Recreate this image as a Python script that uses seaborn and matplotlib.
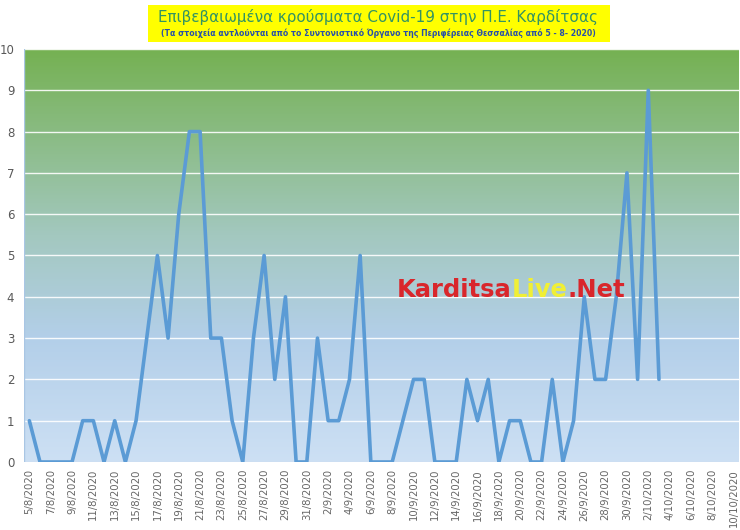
import numpy as np
import pandas as pd
import matplotlib
matplotlib.use("Agg")
import matplotlib.pyplot as plt
import seaborn as sns
from matplotlib.colors import LinearSegmentedColormap
from matplotlib.patches import Rectangle

# ---- data ----
dates = pd.date_range("2020-08-05", "2020-10-10", freq="D")
date_labels = [f"{d.day}/{d.month}/{d.year}" for d in dates]
cases = [1, 0, 0, 0, 0, 1, 1, 0, 1, 0,
         1, 3, 5, 3, 6, 8, 8, 3, 3, 1,
         0, 3, 5, 2, 4, 0, 0, 3, 1, 1,
         2, 5, 0, 0, 0, 1, 2, 2, 0, 0,
         0, 2, 1, 2, 0, 1, 1, 0, 0, 2,
         0, 1, 4, 2, 2, 4, 7, 2, 9, 2]
values = cases + [np.nan] * (len(dates) - len(cases))
yticks = list(range(0, 11))

title = "Επιβεβαιωμένα κρούσματα Covid-19 στην Π.Ε. Καρδίτσας"
subtitle = "(Τα στοιχεία αντλούνται από το Συντονιστικό Όργανο της Περιφέρειας Θεσσαλίας από 5 - 8- 2020)"

df = pd.DataFrame({"idx": np.arange(len(dates)), "cases": values})

sns.set_theme(style="white")
plt.rcParams['font.family'] = ['DejaVu Sans']

fig = plt.figure(figsize=(7.4, 5.3), dpi=100)
ax = fig.add_axes([24/740, 1-462/530, 715/740, (462-49)/530])

# gradient background
cmap = LinearSegmentedColormap.from_list(
    "bg", [(0.0, "#cde0f4"), (0.3, "#b3cfe9"), (0.55, "#a3c8bf"), (1.0, "#75b152")])
grad = np.linspace(0, 1, 256).reshape(-1, 1)
ax.imshow(grad, aspect="auto", cmap=cmap, origin="lower",
          extent=[-0.5, len(dates) - 0.5, 0, 10], zorder=0)

sns.lineplot(data=df, x="idx", y="cases", ax=ax, color="#5b9bd5", lw=2.6, zorder=3)

ax.set_xlim(-0.5, len(dates) - 0.5)
ax.set_ylim(0, 10)
ax.set_yticks(yticks)
ax.set_yticklabels([str(t) for t in yticks], color="#595959", fontsize=8.5)
for t in yticks[1:]:
    ax.axhline(t, color="white", lw=1.0, zorder=1, alpha=0.9)

major = np.arange(0, len(dates), 2)
ax.set_xticks(major)
ax.set_xticklabels([date_labels[i] for i in major], rotation=90,
                   color="#666666", fontsize=7.3)
ax.set_xticks(np.arange(-0.5, len(dates), 2), minor=True)
ax.tick_params(axis="x", which="major", length=0, pad=5)
ax.tick_params(axis="x", which="minor", length=5, color="#bfbfbf", width=0.8)
ax.tick_params(axis="y", length=0, pad=7)
ax.set_xlabel("")
ax.set_ylabel("")
for s in ax.spines.values():
    s.set_visible(False)
ax.axhline(0, color="#c8d8ea", lw=1, zorder=2)
ax.axvline(-0.5, color="#a9c6e4", lw=1, zorder=2)

# title box
fig.patches.append(Rectangle((148/740, 1-42/530), (610-148)/740, 37/530,
                             transform=fig.transFigure, facecolor="#ffff00",
                             edgecolor="none", zorder=0))
fig.text(378/740, 1-17/530, title, ha="center", va="center",
         fontsize=10.9, color="#349462")
fig.text(378/740, 1-33/530, subtitle, ha="center", va="center",
         fontsize=5.6, fontweight="bold", color="#2850a8")

# watermark
fig.canvas.draw()
renderer = fig.canvas.get_renderer()
x0 = 397
y0 = 1 - 290/530
for part, col in [("Karditsa", "#d9262b"), ("Live", "#f0ef35"), (".Net", "#d9262b")]:
    t = fig.text(x0/740, y0, part, ha="left", va="center", fontsize=17.5,
                 fontweight="bold", color=col, zorder=5)
    bb = t.get_window_extent(renderer)
    x0 += bb.width

fig.savefig("out.png", dpi=100)
